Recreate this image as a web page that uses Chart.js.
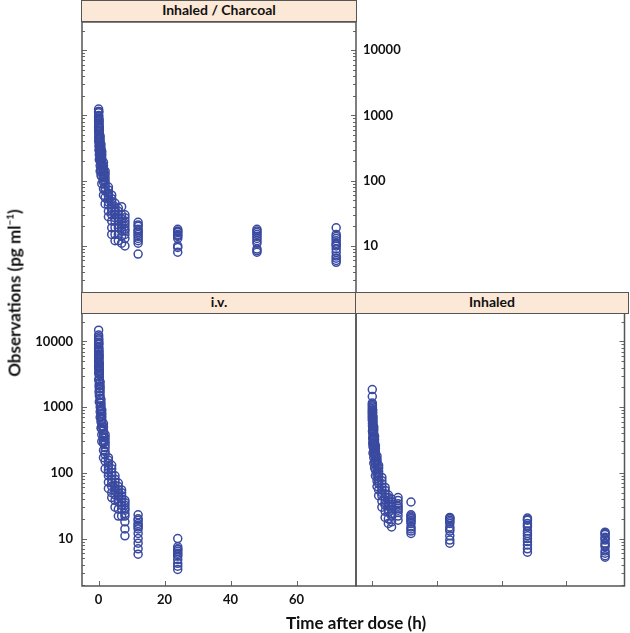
<!DOCTYPE html>
<html><head><meta charset="utf-8">
<script src="https://cdn.jsdelivr.net/npm/chart.js@4"></script>
<style>
html,body{margin:0;padding:0;background:#fff;}
#wrap{position:relative;width:630px;height:633px;overflow:hidden;font-family:Lato,'Open Sans',sans-serif;color:#111;}
canvas{position:absolute;left:0;top:0;}
.strip{position:absolute;background:#fce8d6;border:1.5px solid #555;box-sizing:border-box;text-align:center;font-weight:700;font-size:14px;line-height:18px;}
#ytitle{position:absolute;left:14px;top:293px;transform:translate(-50%,-50%) rotate(-90deg);white-space:nowrap;font-weight:700;font-size:17px;}
#ytitle sup{font-size:10px;}
#xtitle{position:absolute;left:356px;top:622px;transform:translate(-50%,-50%);white-space:nowrap;font-weight:700;font-size:17px;}
</style></head>
<body><div id="wrap">
<canvas id="cTL" width="630" height="633"></canvas>
<canvas id="cBL" width="630" height="633"></canvas>
<canvas id="cBR" width="630" height="633"></canvas>
<div class="strip" style="left:81px;top:0px;width:276px;height:22px;">Inhaled / Charcoal</div>
<div class="strip" style="left:81px;top:292px;width:276px;height:22px;">i.v.</div>
<div class="strip" style="left:355px;top:292px;width:274px;height:22px;">Inhaled</div>
<div id="ytitle">Observations (pg ml<sup>−1</sup>)</div>
<div id="xtitle">Time after dose (h)</div>
</div>
<script>
// ---- data (time after dose in h, concentration in pg/ml) ----
const charcoalTimes = [0.033, 0.083, 0.167, 0.25, 0.5, 0.75, 1, 1.5, 2, 3, 4, 5, 6, 7, 8, 12, 24, 48, 72];
const charcoalConc = [
  [1250, 1150, 1100, 950, 880, 820, 700, 650, 600],
  [1150, 1000, 900, 830, 760, 700, 640, 590, 540, 460, 400],
  [850, 770, 700, 640, 580, 530, 480, 440, 400, 340, 290],
  [640, 580, 520, 470, 430, 390, 360, 330, 300, 250, 210],
  [480, 430, 390, 350, 320, 290, 260, 230, 210, 170, 140],
  [360, 320, 290, 260, 240, 210, 190, 150, 120],
  [280, 250, 220, 200, 180, 160, 140, 115, 90],
  [190, 170, 150, 135, 120, 105, 95, 75, 60],
  [140, 125, 110, 98, 88, 78, 70, 55, 44],
  [80, 72, 64, 58, 52, 47, 42, 34, 28],
  [60, 53, 48, 43, 38, 34, 30, 24, 19, 15],
  [45, 40, 36, 33, 30, 27, 24, 19, 15, 12],
  [38, 34, 30, 27, 24, 21, 19, 15, 12],
  [40, 30, 26, 23, 21, 19, 17, 14, 11],
  [30, 27, 24, 22, 20, 18, 17, 15, 13, 10],
  [23, 21, 20, 18, 17, 16, 15, 14, 13, 12, 11, 7.5],
  [18, 17, 16.5, 16, 15, 14.5, 14, 13, 10, 9.5, 8],
  [18, 17, 16, 15, 14, 13, 12, 11, 9, 8.5, 8],
  [19, 15, 14, 13, 12, 11, 10.5, 10, 9, 8, 7, 6.5, 6, 5.6]
];
const ivTimes = [0.033, 0.083, 0.167, 0.25, 0.5, 0.75, 1, 1.5, 2, 3, 4, 5, 6, 7, 8, 12, 24];
const ivConc = [
  [14800, 12500, 11800, 11000, 9800, 9000, 8000, 7500, 7000, 6200, 5600, 5000, 4200],
  [10500, 9500, 9000, 8200, 7600, 6500, 5900, 5500, 4800, 4200, 3800, 3300, 2600],
  [7000, 6300, 5800, 5200, 4700, 4300, 3900, 3500, 3200, 2600, 2100, 1700],
  [4500, 4000, 3600, 3200, 2900, 2600, 2300, 1900, 1500, 1200],
  [2400, 2100, 1900, 1700, 1500, 1350, 1200, 1000, 850, 700],
  [1300, 1150, 1050, 950, 880, 800, 720, 600, 480],
  [900, 800, 720, 650, 580, 520, 470, 380, 300],
  [560, 500, 440, 390, 350, 310, 280, 220, 170],
  [380, 340, 300, 270, 240, 210, 190, 150, 115],
  [170, 155, 140, 125, 110, 100, 90, 72, 58],
  [130, 115, 100, 90, 80, 70, 62, 50, 42],
  [90, 80, 72, 64, 58, 52, 46, 38, 30],
  [70, 62, 55, 49, 44, 40, 36, 28, 22],
  [55, 50, 45, 40, 36, 32, 28, 22],
  [38, 35, 32, 29, 27, 24, 22, 18, 14, 11],
  [23, 20, 19, 17, 16, 15, 14, 12, 10, 8.5, 7, 5.8],
  [10, 7.5, 7, 6.8, 6.4, 6, 5.7, 5.4, 4.8, 4.2, 3.8, 3.4]
];
const inhaledTimes = [0.033, 0.083, 0.167, 0.25, 0.5, 0.75, 1, 1.5, 2, 3, 4, 5, 6, 8, 12, 24, 48, 72];
const inhaledConc = [
  [1850, 1450, 1150, 1050, 950, 870, 800, 720, 650],
  [1100, 1000, 900, 830, 760, 690, 620, 570, 520, 430],
  [900, 820, 740, 670, 600, 550, 500, 450, 410, 340, 280],
  [700, 630, 570, 510, 460, 420, 380, 340, 310, 250, 200],
  [500, 450, 400, 360, 320, 290, 260, 230, 210, 170, 140],
  [360, 320, 290, 260, 230, 205, 185, 150, 120],
  [260, 235, 210, 190, 170, 150, 135, 110, 90],
  [180, 160, 145, 130, 115, 102, 92, 75, 62],
  [130, 118, 105, 95, 85, 76, 68, 55, 45],
  [85, 76, 68, 61, 55, 50, 45, 37, 30],
  [60, 54, 48, 43, 39, 35, 32, 26, 21],
  [46, 42, 38, 34, 31, 28, 25, 20, 17],
  [40, 36, 33, 30, 27, 24, 22, 18, 15],
  [42, 38, 34, 31, 29, 27, 25, 22, 19],
  [36, 23, 22, 21, 20, 19, 18, 17, 15, 14, 13, 12],
  [21, 20.5, 20, 19, 18, 17, 15, 14, 13, 11, 9.5, 8.5],
  [20.5, 19.5, 19, 17, 16, 15, 13, 12, 11, 10, 9, 8, 7, 6.2],
  [12.5, 12, 11.5, 10.5, 10, 9.5, 8.5, 8, 7.5, 6.5, 6, 5.5, 5.2]
];
const xTickValues = [0, 20, 40, 60];
const yTickValues = [10, 100, 1000, 10000];
const yMinorMultipliers = [2, 3, 4, 5, 6, 7, 8, 9];
const yDecades = [1, 10, 100, 1000, 10000];

// ---- styles ----
const X_MIN = -5, X_MAX = 78, Y_MIN = 1.9, Y_MAX = 27000;
const POINT_COLOR = '#3a4aa0';
const FRAME_COLOR = '#555';
const TICK_FONT = {family: 'Lato', weight: 'bold', size: 13};

function toPoints(times, conc) {
  const pts = [];
  times.forEach((t, i) => conc[i].forEach(c => pts.push({x: t, y: c})));
  return pts;
}

const panelFrame = {
  id: 'panelFrame',
  afterDatasetsDraw(chart, args, o) {
    const {ctx, chartArea: a, scales} = chart;
    const ys = scales.y, xs = scales.x;
    ctx.save();
    ctx.strokeStyle = '#666';
    ctx.lineWidth = 1;
    const seg = (x1, y1, x2, y2) => { ctx.beginPath(); ctx.moveTo(x1, y1); ctx.lineTo(x2, y2); ctx.stroke(); };
    const yTick = (v, len) => {
      if (v < Y_MIN || v > Y_MAX) return;
      const p = Math.round(ys.getPixelForValue(v)) + 0.5;
      if (o.left) seg(a.left, p, a.left + len, p);
      if (o.right) seg(a.right - len, p, a.right, p);
    };
    yDecades.forEach(d => {
      yTick(d, 5);
      yMinorMultipliers.forEach(m => yTick(d * m, 3));
    });
    if (o.bottom) {
      xTickValues.forEach(v => {
        const p = Math.round(xs.getPixelForValue(v)) + 0.5;
        seg(p, a.bottom - 5, p, a.bottom);
      });
    }
    ctx.strokeStyle = FRAME_COLOR;
    ctx.lineWidth = 1.5;
    ctx.strokeRect(a.left, a.top, a.right - a.left, a.bottom - a.top);
    ctx.restore();
  }
};

function makeChart(id, points, cfg) {
  return new Chart(document.getElementById(id), {
    type: 'scatter',
    data: {datasets: [{
      data: points,
      pointStyle: 'circle',
      pointRadius: 4,
      pointBorderWidth: 1.5,
      pointBorderColor: POINT_COLOR,
      pointBackgroundColor: 'rgba(0,0,0,0)',
      showLine: false
    }]},
    options: {
      responsive: false,
      animation: false,
      layout: {padding: cfg.padding},
      plugins: {legend: {display: false}, tooltip: {enabled: false}, panelFrame: cfg.frame},
      scales: {
        x: {
          type: 'linear', min: X_MIN, max: X_MAX, bounds: 'data',
          display: cfg.xLabels,
          grid: {display: false, drawTicks: false},
          border: {display: false},
          afterBuildTicks: s => { s.ticks = xTickValues.map(v => ({value: v})); },
          afterFit: s => { if (cfg.xLabels) s.height = 30; },
          ticks: {font: TICK_FONT, color: '#111', padding: 6, autoSkip: false, maxRotation: 0}
        },
        y: {
          type: 'logarithmic', min: Y_MIN, max: Y_MAX,
          position: cfg.yPos,
          display: cfg.yLabels,
          grid: {display: false, drawTicks: false},
          border: {display: false},
          afterBuildTicks: s => { s.ticks = yTickValues.map(v => ({value: v})); },
          afterFit: s => { if (cfg.yLabels) s.width = cfg.yWidth; },
          ticks: {font: TICK_FONT, color: '#111', padding: cfg.yPad, autoSkip: false, callback: v => String(v)}
        }
      }
    },
    plugins: [panelFrame]
  });
}

// top-left: Inhaled / Charcoal, labels on the right
makeChart('cTL', toPoints(charcoalTimes, charcoalConc), {
  padding: {left: 82, top: 22, right: 630 - 356 - 60, bottom: 633 - 293},
  xLabels: false, yLabels: true, yPos: 'right', yWidth: 60, yPad: 7,
  frame: {left: true, right: true, bottom: false}
});
// bottom-left: i.v.
makeChart('cBL', toPoints(ivTimes, ivConc), {
  padding: {left: 82 - 50, top: 313, right: 630 - 356, bottom: 633 - 586 - 30},
  xLabels: true, yLabels: true, yPos: 'left', yWidth: 50, yPad: 9,
  frame: {left: true, right: false, bottom: true}
});
// bottom-right: Inhaled
makeChart('cBR', toPoints(inhaledTimes, inhaledConc), {
  padding: {left: 356, top: 313, right: 2, bottom: 633 - 586},
  xLabels: false, yLabels: false, yPos: 'right', yWidth: 0, yPad: 0,
  frame: {left: false, right: true, bottom: true}
});
</script>
</body></html>
